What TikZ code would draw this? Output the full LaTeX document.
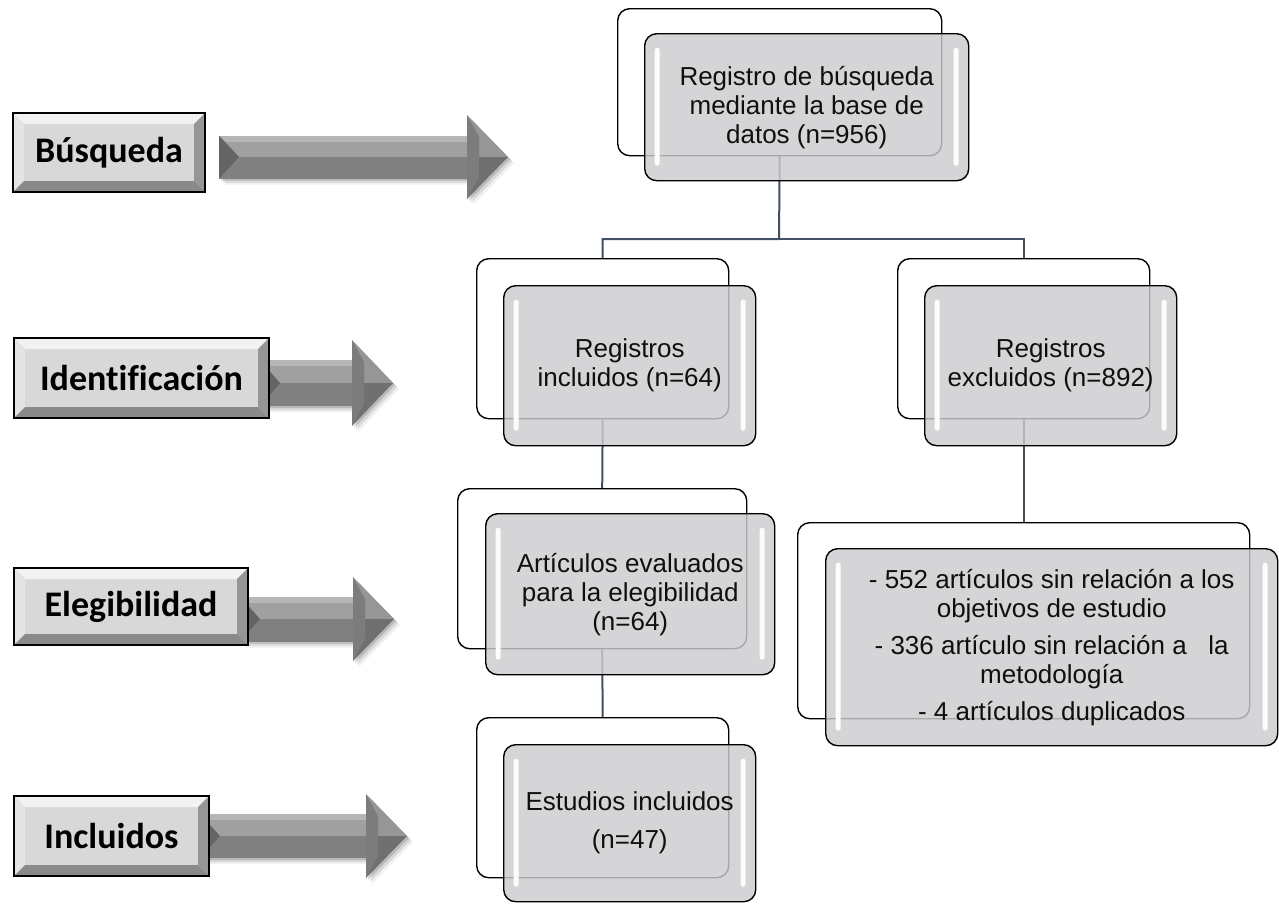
\documentclass[tikz,border=0pt]{standalone}
\usepackage{fontspec}
\setmainfont{Liberation Sans}
\newfontfamily\lblfont[Ligatures=NoCommon]{Carlito}
\definecolor{boxgray}{RGB}{204,204,208}
\definecolor{conn}{RGB}{66,80,100}
\definecolor{txt}{RGB}{15,15,15}
\definecolor{facegray}{RGB}{216,216,216}
\definecolor{bevtop}{RGB}{242,242,242}
\definecolor{bevleft}{RGB}{228,228,228}
\definecolor{bevright}{RGB}{150,150,150}
\definecolor{bevbot}{RGB}{138,138,138}
\definecolor{arHi}{RGB}{182,182,182}
\definecolor{arA}{RGB}{160,160,160}
\definecolor{arB}{RGB}{128,128,128}
\definecolor{arC}{RGB}{100,100,100}
\definecolor{arHU}{RGB}{150,150,150}
\definecolor{arHL}{RGB}{112,112,112}
\definecolor{arHB}{RGB}{124,124,124}
\pgfdeclarelayer{bg}
\pgfsetlayers{bg,main}
\tikzset{
  backbox/.style={draw=black, line width=1.4pt, fill=white, rounded corners=12pt,
    anchor=north west, inner sep=0pt},
  frontbox/.style={draw=black, line width=1.4pt, fill=boxgray, fill opacity=0.82,
    text opacity=1, rounded corners=12pt, anchor=north west, inner sep=0pt,
    align=center, font=\fontsize{26}{29}\selectfont, text=txt,
    path picture={
      \fill[white, fill opacity=0.95, rounded corners=2.5pt]
        ([xshift=10pt,yshift=-14pt]path picture bounding box.north west) rectangle
        ([xshift=15pt,yshift=15pt]path picture bounding box.south west);
      \fill[white, fill opacity=0.95, rounded corners=2.5pt]
        ([xshift=-15pt,yshift=-14pt]path picture bounding box.north east) rectangle
        ([xshift=-10pt,yshift=15pt]path picture bounding box.south east);
    }},
  labelbox/.style={draw=black, line width=2pt, fill=facegray, anchor=north west,
    inner sep=0pt, font=\lblfont\bfseries\fontsize{36}{40}\selectfont, text=black,
    path picture={
      \fill[bevtop] (path picture bounding box.north west) -- (path picture bounding box.north east)
        -- ([xshift=-11pt,yshift=-11pt]path picture bounding box.north east)
        -- ([xshift=11pt,yshift=-11pt]path picture bounding box.north west) -- cycle;
      \fill[bevleft] (path picture bounding box.north west) -- ([xshift=11pt,yshift=-11pt]path picture bounding box.north west)
        -- ([xshift=11pt,yshift=11pt]path picture bounding box.south west)
        -- (path picture bounding box.south west) -- cycle;
      \fill[bevright] (path picture bounding box.north east) -- ([xshift=-11pt,yshift=-11pt]path picture bounding box.north east)
        -- ([xshift=-11pt,yshift=11pt]path picture bounding box.south east)
        -- (path picture bounding box.south east) -- cycle;
      \fill[bevbot] (path picture bounding box.south west) -- (path picture bounding box.south east)
        -- ([xshift=-11pt,yshift=11pt]path picture bounding box.south east)
        -- ([xshift=11pt,yshift=11pt]path picture bounding box.south west) -- cycle;
    }},
  connector/.style={draw=conn, line width=2pt}
}
% x0, xb, xt, yc, hs, hh
\newcommand\blockarrow[6]{%
  \foreach \s/\o in {2/0.14,4/0.10,6/0.06}{
    \fill[black, opacity=\o] ({#1+\s},{#4-#5+\s}) -- ({#2+\s},{#4-#5+\s}) -- ({#2+\s},{#4-#6+\s})
      -- ({#3+\s},{#4+\s}) -- ({#2+\s},{#4+#6+\s}) -- ({#2+\s},{#4+#5+\s}) -- ({#1+\s},{#4+#5+\s}) -- cycle;
  }
  \fill[arA] (#1,{#4-#5}) rectangle (#2,#4);
  \fill[arHi] (#1,{#4-#5}) rectangle (#2,{#4-#5+6});
  \fill[arB] (#1,#4) rectangle (#2,{#4+#5});
  \fill[arC] (#1,{#4-#5}) -- ({#1+20},#4) -- (#1,{#4+#5}) -- cycle;
  \fill[arHU] (#2,{#4-#6}) -- (#3,#4) -- (#2,#4) -- cycle;
  \fill[arHL] (#2,#4) -- (#3,#4) -- (#2,{#4+#6}) -- cycle;
  \fill[arHB] (#2,{#4-#6}) -- ({#2+12},{#4-#6+22}) -- ({#2+12},{#4+#6-22}) -- (#2,{#4+#6}) -- cycle;
}
\begin{document}
\begin{tikzpicture}[x=1pt,y=-1pt]
\useasboundingbox (0,0) rectangle (1279,903);

% left stage arrows
\blockarrow{219}{467}{508}{157}{21.5}{42}
\blockarrow{260}{352}{393}{383}{23}{43}
\blockarrow{240}{353}{394}{619}{22.5}{42}
\blockarrow{200}{366}{407}{836}{22}{42}

% stage labels
\node[labelbox, minimum width=192pt, minimum height=79pt] (lbus) at (12,112) {Búsqueda};
\node[labelbox, minimum width=255pt, minimum height=80pt] (lide) at (13,337) {Identificación};
\node[labelbox, minimum width=234pt, minimum height=77pt] (lele) at (13,567) {Elegibilidad};
\node[labelbox, minimum width=195pt, minimum height=80pt] (linc) at (13,795) {Incluidos};

% flow boxes
\node[backbox, minimum width=324pt, minimum height=147pt] (topB) at (617,8) {};
\node[frontbox, minimum width=324pt, minimum height=147pt] (topF) at (644,33)
  {Registro de búsqueda\\mediante la base de\\datos (n=956)};

\node[backbox, minimum width=252pt, minimum height=160pt] (incB) at (476,258) {};
\node[frontbox, minimum width=252pt, minimum height=160pt] (incF) at (503,285)
  {Registros\\incluidos (n=64)};

\node[backbox, minimum width=252pt, minimum height=160pt] (excB) at (897,258) {};
\node[frontbox, minimum width=252pt, minimum height=160pt] (excF) at (924,285)
  {Registros\\excluidos (n=892)};

\node[backbox, minimum width=289pt, minimum height=160pt] (eleB) at (457,488) {};
\node[frontbox, minimum width=289pt, minimum height=161pt] (eleF) at (485,513)
  {Artículos evaluados\\para la elegibilidad\\(n=64)};

\node[backbox, minimum width=452pt, minimum height=196pt] (detB) at (797,522) {};
\node[frontbox, minimum width=452pt, minimum height=197pt] (detF) at (825,548)
  {- 552 artículos sin relación a los\\objetivos de estudio\\[8pt]
   - 336 artículo sin relación a\ \ \ la\\metodología\\[8pt]
   - 4 artículos duplicados};

\node[backbox, minimum width=252pt, minimum height=160pt] (estB) at (476,717) {};
\node[frontbox, minimum width=252pt, minimum height=157pt] (estF) at (503,744)
  {Estudios incluidos\\[9pt](n=47)};

% connectors (behind boxes)
\begin{pgfonlayer}{bg}
  \coordinate (split) at (779,239);
  \draw[connector] (topB.south) -- (split) -| (incB.north);
  \draw[connector] (split) -| (excB.north);
  \draw[connector] (incB.south) -- (eleB.north);
  \draw[connector] (eleB.south) -- (estB.north);
  \draw[connector] (excB.south) -- (detB.north);
\end{pgfonlayer}
\end{tikzpicture}
\end{document}
